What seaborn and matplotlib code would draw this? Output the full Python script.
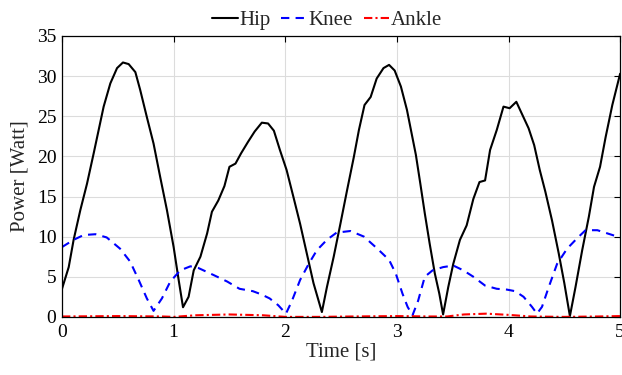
import matplotlib
matplotlib.use("Agg")
import matplotlib.pyplot as plt
import seaborn as sns

# Joint power over time
hip_t = [0.0, 0.06, 0.104, 0.164, 0.224, 0.284, 0.373, 0.433, 0.493, 0.546, 0.597, 0.657,
         0.70, 0.76, 0.82, 0.88, 0.94, 1.0, 1.045, 1.084, 1.134, 1.18, 1.24, 1.30, 1.343,
         1.40, 1.455, 1.50, 1.554, 1.605, 1.666, 1.726, 1.79, 1.846, 1.898, 1.952, 2.012,
         2.072, 2.133, 2.193, 2.253, 2.328, 2.373, 2.434, 2.494, 2.554, 2.614, 2.66, 2.71,
         2.765, 2.819, 2.88, 2.93, 2.98, 3.036, 3.09, 3.13, 3.17, 3.21, 3.25, 3.294, 3.34,
         3.38, 3.414, 3.46, 3.505, 3.565, 3.625, 3.685, 3.74, 3.79, 3.835, 3.895, 3.955,
         4.01, 4.07, 4.12, 4.18, 4.23, 4.28, 4.33, 4.39, 4.45, 4.50, 4.55, 4.60, 4.66,
         4.72, 4.766, 4.82, 4.87, 4.93, 5.0]
hip_p = [3.5, 6.2, 9.6, 13.3, 16.6, 20.4, 26.2, 29.1, 31.0, 31.7, 31.5, 30.5,
         28.3, 24.9, 21.6, 17.4, 13.3, 8.7, 4.6, 1.2, 2.5, 5.8, 7.5, 10.4, 13.1,
         14.5, 16.3, 18.7, 19.1, 20.4, 21.8, 23.1, 24.2, 24.1, 23.2, 20.8, 18.3,
         15.0, 11.6, 7.9, 4.2, 0.6, 3.7, 7.5, 11.6, 15.8, 19.9, 23.3, 26.4,
         27.4, 29.7, 31.0, 31.4, 30.7, 28.7, 25.8, 23.0, 20.2, 16.6, 12.9, 9.1, 5.4,
         2.9, 0.3, 3.7, 6.6, 9.6, 11.4, 14.7, 16.8, 17.0, 20.8, 23.3, 26.2,
         26.0, 26.8, 25.3, 23.5, 21.4, 18.3, 15.6, 12.0, 7.9, 4.2, 0.1, 3.7, 8.3,
         12.5, 16.2, 18.7, 22.4, 26.4, 30.3]

knee_t = [0.0, 0.104, 0.194, 0.30, 0.40, 0.52, 0.61, 0.687, 0.76, 0.82, 0.895, 0.97,
          1.06, 1.15, 1.22, 1.36, 1.48, 1.59, 1.71, 1.786, 1.86, 1.937, 2.006, 2.057,
          2.133, 2.21, 2.283, 2.373, 2.46, 2.584, 2.705, 2.825, 2.93, 2.99, 3.05, 3.096,
          3.14, 3.19, 3.25, 3.32, 3.414, 3.505, 3.595, 3.685, 3.79, 3.895, 3.985, 4.06,
          4.135, 4.21, 4.255, 4.30, 4.36, 4.435, 4.525, 4.615, 4.69, 4.796, 4.886, 4.976, 5.0]
knee_p = [8.7, 9.6, 10.2, 10.3, 9.9, 8.5, 6.9, 4.6, 2.3, 0.75, 2.3, 4.4,
          5.8, 6.3, 6.1, 5.2, 4.4, 3.5, 3.2, 2.8, 2.3, 1.45, 0.4, 1.9,
          4.6, 6.6, 8.3, 9.6, 10.5, 10.7, 10.0, 8.5, 7.1, 5.4, 2.9, 1.25,
          0.2, 2.0, 5.0, 5.8, 6.2, 6.4, 5.8, 5.0, 3.9, 3.5, 3.4, 3.2,
          2.5, 1.25, 0.4, 1.25, 3.7, 6.6, 8.5, 9.8, 10.8, 10.8, 10.4, 10.0, 9.9]

ankle_t = [0.0, 0.5, 0.9, 1.0, 1.2, 1.5, 1.8, 2.0, 2.3, 2.6, 3.0, 3.3, 3.45,
           3.6, 3.8, 4.0, 4.2, 4.5, 4.8, 5.0]
ankle_p = [0.05, 0.1, 0.05, 0.0, 0.2, 0.3, 0.2, 0.0, 0.0, 0.05, 0.1, 0.05, 0.05,
           0.3, 0.4, 0.25, 0.05, 0.0, 0.05, 0.1]

x_ticks = [0, 1, 2, 3, 4, 5]
y_ticks = [0, 5, 10, 15, 20, 25, 30, 35]

sns.set_theme(style="whitegrid")
plt.rcParams["font.family"] = ["Liberation Serif", "DejaVu Serif"]

fig = plt.figure(figsize=(6.22, 3.75), dpi=100)
ax = fig.add_axes([0.0997, 0.155, 0.8973, 0.749])

sns.lineplot(x=hip_t, y=hip_p, ax=ax, color="black", lw=1.5, label="Hip")
sns.lineplot(x=knee_t, y=knee_p, ax=ax, color="blue", lw=1.5, label="Knee",
             linestyle=(0, (4, 3)))
sns.lineplot(x=ankle_t, y=ankle_p, ax=ax, color="red", lw=1.5, label="Ankle",
             linestyle=(0, (4, 1.5, 1, 1.5)))

ax.set_xlim(0, 5)
ax.set_ylim(0, 35)
ax.set_xticks(x_ticks)
ax.set_yticks(y_ticks)
ax.set_xlabel("Time [s]", fontsize=15, labelpad=1)
ax.set_ylabel("Power [Watt]", fontsize=15, labelpad=5)
ax.tick_params(axis="both", which="both", direction="in", length=4, width=0.8,
               labelsize=14, colors="black", top=True, right=True, pad=4)
ax.tick_params(axis="x", pad=5)
ax.grid(True, color="#dcdcdc", lw=0.8)
for s in ax.spines.values():
    s.set_color("black")
    s.set_linewidth(0.9)

leg = ax.legend(loc="lower center", bbox_to_anchor=(0.475, 1.005), ncol=3, frameon=False,
                fontsize=15, handlelength=1.25, handletextpad=0.08, columnspacing=0.5,
                borderaxespad=0.0, borderpad=0.2)

fig.savefig("out.png", dpi=100)
